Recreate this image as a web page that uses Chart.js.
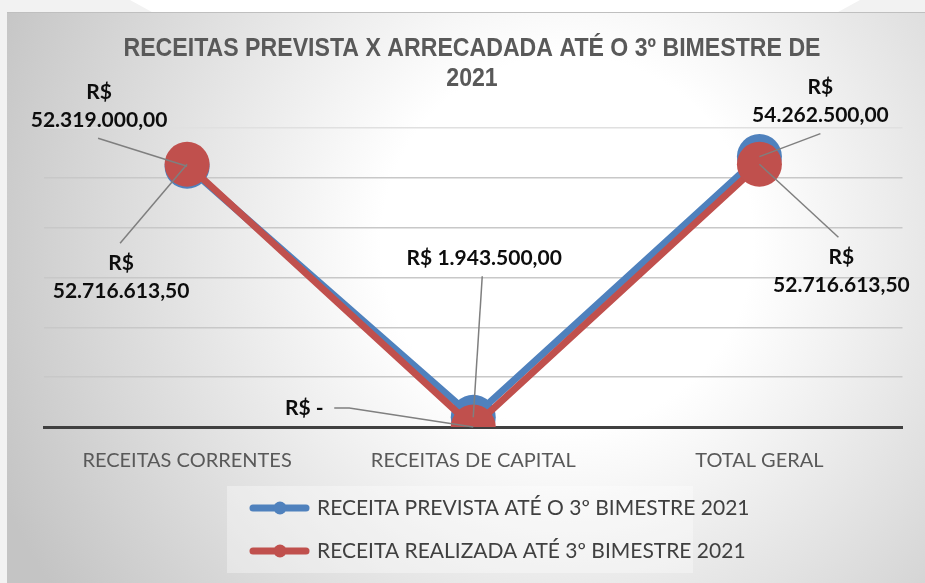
<!DOCTYPE html>
<html>
<head>
<meta charset="utf-8">
<script src="https://cdn.jsdelivr.net/npm/chart.js@4.4.1/dist/chart.umd.min.js"></script>
<style>
  html, body { margin: 0; padding: 0; background: #f2f2f2; width: 925px; height: 583px; overflow: hidden; }
  #topShape { position: absolute; left: 130px; top: 0; width: 730px; height: 12px; background: #fff;
    clip-path: polygon(0 0, 100% 0, 97% 100%, 3% 100%); }
  #graf { position: absolute; left: 7px; top: 12px; }
</style>
</head>
<body>
<div id="topShape"></div>
<canvas id="graf" width="918" height="571"></canvas>
<script>
// valores
const categorias = ['RECEITAS CORRENTES', 'RECEITAS DE CAPITAL', 'TOTAL GERAL'];
const receitaPrevista = [52319000, 1943500, 54262500];
const receitaRealizada = [52716613.5, 0, 52716613.5];
const nomesSeries = ['RECEITA PREVISTA ATÉ O 3º BIMESTRE 2021', 'RECEITA REALIZADA ATÉ 3º BIMESTRE 2021'];
const tituloLinhas = ['RECEITAS PREVISTA X ARRECADADA ATÉ O 3º BIMESTRE DE', '2021'];
const eixoY = [0, 60000000, 10000000]; // min, max, passo

const corAzul = '#4f81bd';
const corVermelho = '#c0504d';

// formato R$ 1.234,56
function formataReal(v) {
	if (v === 0) return 'R$ -';
	let partes = v.toFixed(2).split('.');
	let inteiro = partes[0].replace(/\B(?=(\d{3})+(?!\d))/g, '.');
	return 'R$ ' + inteiro + ',' + partes[1];
}

// posicao dos rotulos em relacao ao ponto (so estilo)
// dx, dy = centro do texto ; guia = pontos da linha ate o marcador
const rotulosAzul = [
	{ dx: -88, dy: -60, quebra: true, guia: [[-89, -28]] },
	{ dx: 11, dy: -159, quebra: false, guia: [[9, -141]] },
	{ dx: 61, dy: -55, quebra: true, guia: [[61, -23]] }
];
const rotulosVermelho = [
	{ dx: -66, dy: 113, quebra: true, guia: [[-67, 79]] },
	{ dx: -169, dy: -19, quebra: false, guia: [[-139, -19], [-124, -19]] },
	{ dx: 82, dy: 107, quebra: true, guia: [[79, 73]] }
];

//=====================================
// fundo com degrade + titulo
//=====================================
const fundoPlugin = {
	id: 'fundo',
	beforeDraw(chart) {
		const c = chart.ctx;
		const w = chart.width, h = chart.height;
		c.save();
		const g = c.createRadialGradient(560, 230, 0, 560, 230, 620);
		g.addColorStop(0, '#ffffff');
		g.addColorStop(0.3, '#ffffff');
		g.addColorStop(1, '#c4c4c4');
		c.fillStyle = g;
		c.fillRect(0, 0, w, h);
		c.strokeStyle = '#bfbfbf';
		c.lineWidth = 1;
		c.beginPath();
		c.moveTo(0, 0.5);
		c.lineTo(w, 0.5);
		c.stroke();

		// titulo estreito (tipo Arial Narrow)
		c.fillStyle = '#595959';
		c.font = "bold 25px 'Liberation Sans', Arial, sans-serif";
		c.textAlign = 'center';
		c.textBaseline = 'middle';
		const larg = c.measureText(tituloLinhas[0]).width;
		const esc = 697 / larg;
		c.translate(465, 0);
		c.scale(esc, 1);
		tituloLinhas.forEach((t, i) => c.fillText(t, 0, 37 + i * 30));
		c.restore();
	}
};

//=====================================
// rotulos de dados + legenda
//=====================================
const rotulosPlugin = {
	id: 'rotulos',
	afterDatasetsDraw(chart) {
		const c = chart.ctx;
		c.save();
		const conjuntos = [[0, rotulosAzul], [1, rotulosVermelho]];
		conjuntos.forEach(([di, cfg]) => {
			const meta = chart.getDatasetMeta(di);
			const valores = chart.data.datasets[di].data;
			meta.data.forEach((pt, i) => {
				const r = cfg[i];
				// linha guia
				c.strokeStyle = '#7f7f7f';
				c.lineWidth = 1.5;
				c.beginPath();
				c.moveTo(pt.x + r.guia[0][0], pt.y + r.guia[0][1]);
				for (let k = 1; k < r.guia.length; k++) c.lineTo(pt.x + r.guia[k][0], pt.y + r.guia[k][1]);
				c.lineTo(pt.x, pt.y);
				c.stroke();
				// texto
				const txt = formataReal(valores[i]);
				c.fillStyle = '#0d0d0d';
				c.font = 'bold 21px Lato';
				c.textAlign = 'center';
				c.textBaseline = 'middle';
				if (r.quebra) {
					c.fillText('R$', pt.x + r.dx, pt.y + r.dy - 14);
					c.fillText(txt.replace('R$ ', ''), pt.x + r.dx, pt.y + r.dy + 14);
				} else {
					c.fillText(txt, pt.x + r.dx, pt.y + r.dy);
				}
			});
		});
		c.restore();
	},
	afterDraw(chart) {
		const c = chart.ctx;
		c.save();
		// caixa da legenda
		c.fillStyle = 'rgba(255,255,255,0.35)';
		c.fillRect(220, 474, 466, 87);
		const cores = [corAzul, corVermelho];
		nomesSeries.forEach((nome, i) => {
			const y = 496 + i * 43;
			c.strokeStyle = cores[i];
			c.lineWidth = 7;
			c.lineCap = 'round';
			c.beginPath();
			c.moveTo(246, y);
			c.lineTo(299, y);
			c.stroke();
			c.fillStyle = cores[i];
			c.beginPath();
			c.arc(273, y, 6.5, 0, Math.PI * 2);
			c.fill();
			c.fillStyle = '#404040';
			c.font = '21px Lato';
			c.textAlign = 'left';
			c.textBaseline = 'middle';
			c.fillText(nome, 310, y);
		});
		c.restore();
	}
};

const ctx = document.getElementById('graf').getContext('2d');

var meuGrafico = new Chart(ctx, {
	type: 'line',
	data: {
		labels: categorias,
		datasets: [{
			label: nomesSeries[0],
			data: receitaPrevista,
			borderColor: corAzul,
			backgroundColor: corAzul,
			borderWidth: 7,
			pointRadius: 22.5,
			pointHoverRadius: 22.5,
			pointBorderWidth: 0,
			tension: 0,
			order: 2
		}, {
			label: nomesSeries[1],
			data: receitaRealizada,
			borderColor: corVermelho,
			backgroundColor: corVermelho,
			borderWidth: 7,
			pointRadius: 22.5,
			pointHoverRadius: 22.5,
			pointBorderWidth: 0,
			tension: 0,
			order: 1
		}]
	},
	options: {
		responsive: false,
		animation: false,
		layout: {
			padding: { left: 37, right: 10, top: 116, bottom: 96 }
		},
		plugins: {
			legend: { display: false },
			tooltip: { enabled: false },
			title: { display: false }
		},
		scales: {
			x: {
				offset: true,
				grid: { display: false },
				border: { display: true, color: '#404040', width: 3 },
				ticks: {
					color: '#595959',
					font: { family: 'Lato', size: 20 },
					padding: 14
				}
			},
			y: {
				min: eixoY[0],
				max: eixoY[1],
				ticks: { display: false, stepSize: eixoY[2] },
				border: { display: false },
				grid: {
					drawTicks: false,
					lineWidth: 1.5,
					color: (c) => c.tick && c.tick.value === eixoY[1] ? '#e0e0e0' : '#c8c8c8'
				}
			}
		}
	},
	plugins: [fundoPlugin, rotulosPlugin]
});
</script>
</body>
</html>
